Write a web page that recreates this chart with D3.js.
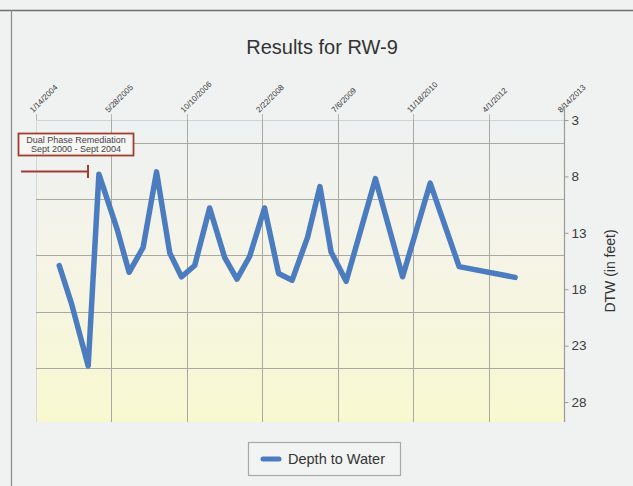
<!DOCTYPE html>
<html>
<head>
<meta charset="utf-8">
<script src="https://cdn.jsdelivr.net/npm/d3@7"></script>
<style>
  body { margin: 0; background: #eff2f1; }
  svg { display: block; font-family: "Liberation Sans", Arial, sans-serif; }
</style>
</head>
<body>
<svg id="chart" width="633" height="486"></svg>
<script>
// sample dates and depth to water (feet)
let sampleDates = ["6/16/2004","9/6/2004","12/25/2004","3/6/2005","7/3/2005","9/22/2005","12/24/2005",
    "3/23/2006","6/19/2006","9/4/2006","12/1/2006","3/10/2007","6/18/2007","9/7/2007","11/30/2007",
    "3/8/2008","6/9/2008","9/7/2008","12/18/2008","3/10/2009","5/23/2009","8/31/2009","3/13/2010",
    "9/9/2010","3/11/2011","9/19/2011","9/24/2012"];
let depthValues = [15.9,19.3,24.8,7.8,12.6,16.5,14.3,
    7.6,14.8,16.9,15.9,10.8,15.2,17.1,15.1,
    10.8,16.6,17.2,13.4,8.9,14.7,17.3,8.2,
    16.9,8.6,16.0,16.95];
let dateTicks = ["1/14/2004","5/28/2005","10/10/2006","2/22/2008","7/6/2009","11/18/2010","4/1/2012","8/14/2013"];
let depthTicks = [3,8,13,18,23,28];
let depthGrid = [5,10,15,20,25];
let remediationNote = ["Dual Phase Remediation","Sept 2000 - Sept 2004"];

let parseDate = d3.timeParse("%m/%d/%Y");
let data = sampleDates.map(function(d, i){
    return {date: parseDate(d), depth: depthValues[i]};
});

let svg = d3.select("#chart");
let plotLeft = 36, plotRight = 564, plotTop = 120, plotBottom = 422;

let x = d3.scaleTime()
    .domain([parseDate(dateTicks[0]), parseDate(dateTicks[dateTicks.length-1])])
    .range([plotLeft, plotRight]);
let y = d3.scaleLinear()
    .domain([3, 29.77])
    .range([plotTop, plotBottom]);

// outer frame lines
svg.append("line").attr("x1", 0).attr("x2", 633).attr("y1", 10.5).attr("y2", 10.5)
   .attr("stroke", "#6f6f6f").attr("stroke-width", 1.5);
svg.append("line").attr("x1", 11.5).attr("x2", 11.5).attr("y1", 10).attr("y2", 486)
   .attr("stroke", "#8a8a8a").attr("stroke-width", 1.2);

// title
svg.append("text")
   .attr("x", 322).attr("y", 54)
   .attr("text-anchor", "middle")
   .style("font-size", "20px")
   .style("fill", "#333")
   .text("Results for RW-9");

// plot background gradient
let grad = svg.append("defs").append("linearGradient")
    .attr("id", "bg").attr("x1", 0).attr("x2", 0).attr("y1", 0).attr("y2", 1);
grad.append("stop").attr("offset", "0%").attr("stop-color", "#eef1f2");
grad.append("stop").attr("offset", "45%").attr("stop-color", "#f5f4e7");
grad.append("stop").attr("offset", "100%").attr("stop-color", "#f8f8d0");

svg.append("rect")
   .attr("x", plotLeft).attr("y", plotTop)
   .attr("width", plotRight-plotLeft).attr("height", plotBottom-plotTop)
   .attr("fill", "url(#bg)");

// border lines of the plot (light)
svg.append("line").attr("x1", plotLeft).attr("x2", plotRight).attr("y1", plotTop+0.5).attr("y2", plotTop+0.5)
   .attr("stroke", "#d2d4d2");
svg.append("line").attr("x1", plotLeft+0.5).attr("x2", plotLeft+0.5).attr("y1", plotTop).attr("y2", plotBottom)
   .attr("stroke", "#d6d8d4");

// horizontal grid
svg.append("g").selectAll("line")
   .data(depthGrid).enter()
   .append("line")
   .attr("x1", plotLeft).attr("x2", plotRight)
   .attr("y1", function(d){ return Math.round(y(d))+0.5; })
   .attr("y2", function(d){ return Math.round(y(d))+0.5; })
   .attr("stroke", "#a9a9a4");

// vertical grid + top tick marks
svg.append("g").selectAll("line")
   .data(dateTicks.slice(1, -1)).enter()
   .append("line")
   .attr("x1", function(d){ return Math.round(x(parseDate(d)))+0.5; })
   .attr("x2", function(d){ return Math.round(x(parseDate(d)))+0.5; })
   .attr("y1", plotTop).attr("y2", plotBottom)
   .attr("stroke", "#a9a9a4");

svg.append("g").selectAll("line")
   .data(dateTicks).enter()
   .append("line")
   .attr("x1", function(d){ return Math.round(x(parseDate(d)))+0.5; })
   .attr("x2", function(d){ return Math.round(x(parseDate(d)))+0.5; })
   .attr("y1", plotTop-6).attr("y2", plotTop)
   .attr("stroke", "#b5b5b5");

// rotated date labels
svg.append("g").selectAll("text")
   .data(dateTicks).enter()
   .append("text")
   .attr("transform", function(d){
        return `translate(${x(parseDate(d))-3},${plotTop-7}) rotate(-45)`;
   })
   .style("font-size", "8px")
   .style("fill", "#3a3a3a")
   .text(function(d){ return d; });

// right axis
let yAxis = d3.axisRight(y)
    .tickValues(depthTicks)
    .tickSize(4)
    .tickPadding(3)
    .tickSizeOuter(0);
let axisG = svg.append("g")
    .attr("transform", `translate(${plotRight+0.5},0)`)
    .call(yAxis);
axisG.select(".domain").attr("stroke", "#9a9a9a").attr("stroke-width", 1.2)
     .attr("d", `M0,${plotTop-14}V${plotBottom}`);
axisG.selectAll(".tick line").attr("stroke", "#9a9a9a");
axisG.selectAll(".tick text")
     .style("font-size", "13.5px")
     .style("font-family", "'Liberation Sans', Arial, sans-serif")
     .attr("fill", "#3c3c3c");

svg.append("text")
   .attr("transform", `translate(615,${(plotTop+plotBottom)/2}) rotate(-90)`)
   .attr("text-anchor", "middle")
   .style("font-size", "14px")
   .style("fill", "#333")
   .text("DTW (in feet)");

// data line
let line = d3.line()
    .x(function(d){ return x(d.date); })
    .y(function(d){ return y(d.depth); });

svg.append("path")
   .datum(data)
   .attr("d", line)
   .attr("fill", "none")
   .attr("stroke", "#4b7cc0")
   .attr("stroke-width", 5.5)
   .attr("stroke-linejoin", "round")
   .attr("stroke-linecap", "round");

// remediation note
svg.append("rect")
   .attr("x", 18.5).attr("y", 133.5).attr("width", 115).attr("height", 22)
   .attr("fill", "#f6f6f5").attr("stroke", "#a0402c").attr("stroke-width", 1.8);
svg.append("g").selectAll("text")
   .data(remediationNote).enter()
   .append("text")
   .attr("x", 76)
   .attr("y", function(d, i){ return 142.5 + i*9.5; })
   .attr("text-anchor", "middle")
   .style("font-size", "9px")
   .style("fill", "#444")
   .text(function(d){ return d; });

svg.append("line").attr("x1", 21).attr("x2", 88).attr("y1", 171.5).attr("y2", 171.5)
   .attr("stroke", "#a33a36").attr("stroke-width", 2);
svg.append("line").attr("x1", 88).attr("x2", 88).attr("y1", 165).attr("y2", 178)
   .attr("stroke", "#a33a36").attr("stroke-width", 2);

// legend
svg.append("rect")
   .attr("x", 248.5).attr("y", 442.5).attr("width", 152).attr("height", 33)
   .attr("fill", "#f2f4f3").attr("stroke", "#a8a8a8").attr("stroke-width", 1.2);
svg.append("line")
   .attr("x1", 263).attr("x2", 279).attr("y1", 459).attr("y2", 459)
   .attr("stroke", "#4b7cc0").attr("stroke-width", 5).attr("stroke-linecap", "round");
svg.append("text")
   .attr("x", 288).attr("y", 464)
   .style("font-size", "14.5px")
   .style("fill", "#333")
   .text("Depth to Water");
</script>
</body>
</html>
